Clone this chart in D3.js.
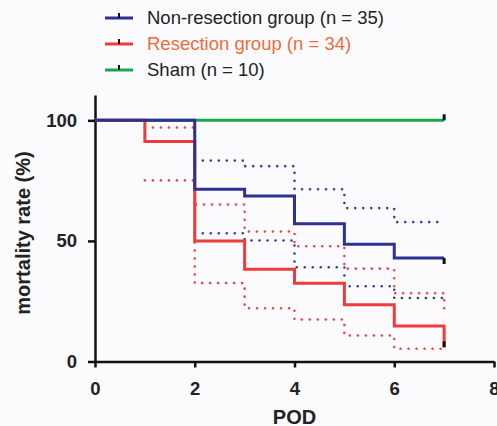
<!DOCTYPE html>
<html>
<head>
<meta charset="utf-8">
<script src="https://cdn.jsdelivr.net/npm/d3@7"></script>
<style>
  body { margin: 0; background: #fbfbfd; }
  svg { display: block; font-family: "Liberation Sans", Arial, sans-serif; }
</style>
</head>
<body>
<div class="graph"></div>
<script>
// days after operation
var days = [0, 1, 2, 3, 4, 5, 6, 7];

// mortality rate (%) per day
var nonResection = [100, 100, 71.4, 68.6, 57.1, 48.6, 42.9, 42.9];
var nonResUpper = [null, null, 83.3, 81.0, 71.4, 63.6, 57.8, 57.6];
var nonResLower = [null, null, 53.2, 50.2, 39.1, 31.2, 26.3, 24.6];

var resection = [100, 91.2, 50, 38.2, 32.4, 23.5, 14.7, 5.9];
var resUpper = [null, 97.0, 65.1, 53.9, 47.8, 38.5, 28.3, 19.1];
var resLower = [null, 75.1, 32.5, 22.1, 17.4, 10.8, 5.3, 3.8];

var sham = [100, 100, 100, 100, 100, 100, 100, 100];

var xTicks = [0, 2, 4, 6, 8];
var yTicks = [0, 50, 100];

var legendNames = ["Non-resection group (n = 35)", "Resection group (n = 34)", "Sham (n = 10)"];
var legendColors = ["#2e3192", "#ee3b3b", "#1aa64a"];
var legendTextColors = ["#222222", "#f26b3a", "#222222"];

var width = 497;
var height = 426;

var svg = d3.select(".graph").append("svg")
  .attr("width", width)
  .attr("height", height);

var x = d3.scaleLinear()
  .domain([0, 8])
  .range([95, 494]);

var y = d3.scaleLinear()
  .domain([0, 110.5])
  .range([361.5, 95]);

// axes
var xAxis = d3.axisBottom(x)
  .tickValues(xTicks)
  .tickSize(6)
  .tickSizeOuter(0)
  .tickPadding(14);

var yAxis = d3.axisLeft(y)
  .tickValues(yTicks)
  .tickSize(7)
  .tickSizeOuter(0)
  .tickPadding(11);

var xAxisGroup = svg.append("g")
  .attr("transform", "translate(0," + y(0) + ")")
  .call(xAxis);

var yAxisGroup = svg.append("g")
  .attr("transform", "translate(" + x(0) + ",0)")
  .call(yAxis);

svg.selectAll(".domain, .tick line")
  .attr("stroke", "#111")
  .attr("stroke-width", 2.5);

svg.selectAll(".tick text")
  .attr("fill", "#222")
  .style("font-size", "18.5px")
  .style("font-weight", "bold");

svg.append("text")
  .attr("x", x(4))
  .attr("y", 424)
  .attr("text-anchor", "middle")
  .style("font-size", "20px")
  .style("font-weight", "bold")
  .attr("fill", "#222")
  .text("POD");

svg.append("text")
  .attr("transform", "translate(30," + 233 + ") rotate(-90)")
  .attr("text-anchor", "middle")
  .style("font-size", "20px")
  .style("font-weight", "bold")
  .attr("fill", "#222")
  .text("mortality rate (%)");

// step lines
var line = d3.line()
  .defined(function (d) { return d.v !== null; })
  .x(function (d) { return x(d.t); })
  .y(function (d) { return y(d.v); })
  .curve(d3.curveStepAfter);

function toPoints(values) {
  return days.map(function (t, i) { return {t: t, v: values[i]}; });
}

function drawDotted(values, color) {
  svg.append("path")
    .datum(toPoints(values))
    .attr("fill", "none")
    .attr("stroke", color)
    .attr("stroke-width", 2.6)
    .attr("stroke-linecap", "round")
    .attr("stroke-dasharray", "0,8")
    .attr("d", line);
}

function drawSolid(values, color) {
  svg.append("path")
    .datum(toPoints(values))
    .attr("fill", "none")
    .attr("stroke", color)
    .attr("stroke-width", 3)
    .attr("d", line);
}

drawDotted(resUpper, "#f24444");
drawDotted(resLower, "#f24444");
drawDotted(nonResUpper, "#2e3ea0");
drawDotted(nonResLower, "#2e3ea0");

drawSolid(sham, legendColors[2]);
drawSolid(resection, legendColors[1]);
drawSolid(nonResection, legendColors[0]);

// censor marks at the last day
var last = days.length - 1;
var censor = [
  {v: sham[last], dy: -6},
  {v: nonResection[last], dy: 6},
  {v: resection[last], dy: -6}
];
svg.selectAll(".censor")
  .data(censor)
  .enter().append("line")
  .attr("class", "censor")
  .attr("x1", x(days[last]))
  .attr("x2", x(days[last]))
  .attr("y1", function (d) { return y(d.v); })
  .attr("y2", function (d) { return y(d.v) + d.dy; })
  .attr("stroke", "#111")
  .attr("stroke-width", 3);

// legend
var legendY = [18, 44, 70];
var legend = svg.selectAll(".legend")
  .data(legendNames)
  .enter().append("g")
  .attr("class", "legend")
  .attr("transform", function (d, i) { return "translate(105," + legendY[i] + ")"; });

legend.append("line")
  .attr("x1", 0)
  .attr("x2", 28)
  .attr("stroke", function (d, i) { return legendColors[i]; })
  .attr("stroke-width", 3);

legend.append("line")
  .attr("x1", 14)
  .attr("x2", 14)
  .attr("y1", -5)
  .attr("y2", 0)
  .attr("stroke", "#111")
  .attr("stroke-width", 2);

legend.append("text")
  .attr("x", 42)
  .attr("dy", "0.35em")
  .style("font-size", "18.5px")
  .attr("fill", function (d, i) { return legendTextColors[i]; })
  .text(function (d) { return d; });
</script>
</body>
</html>
